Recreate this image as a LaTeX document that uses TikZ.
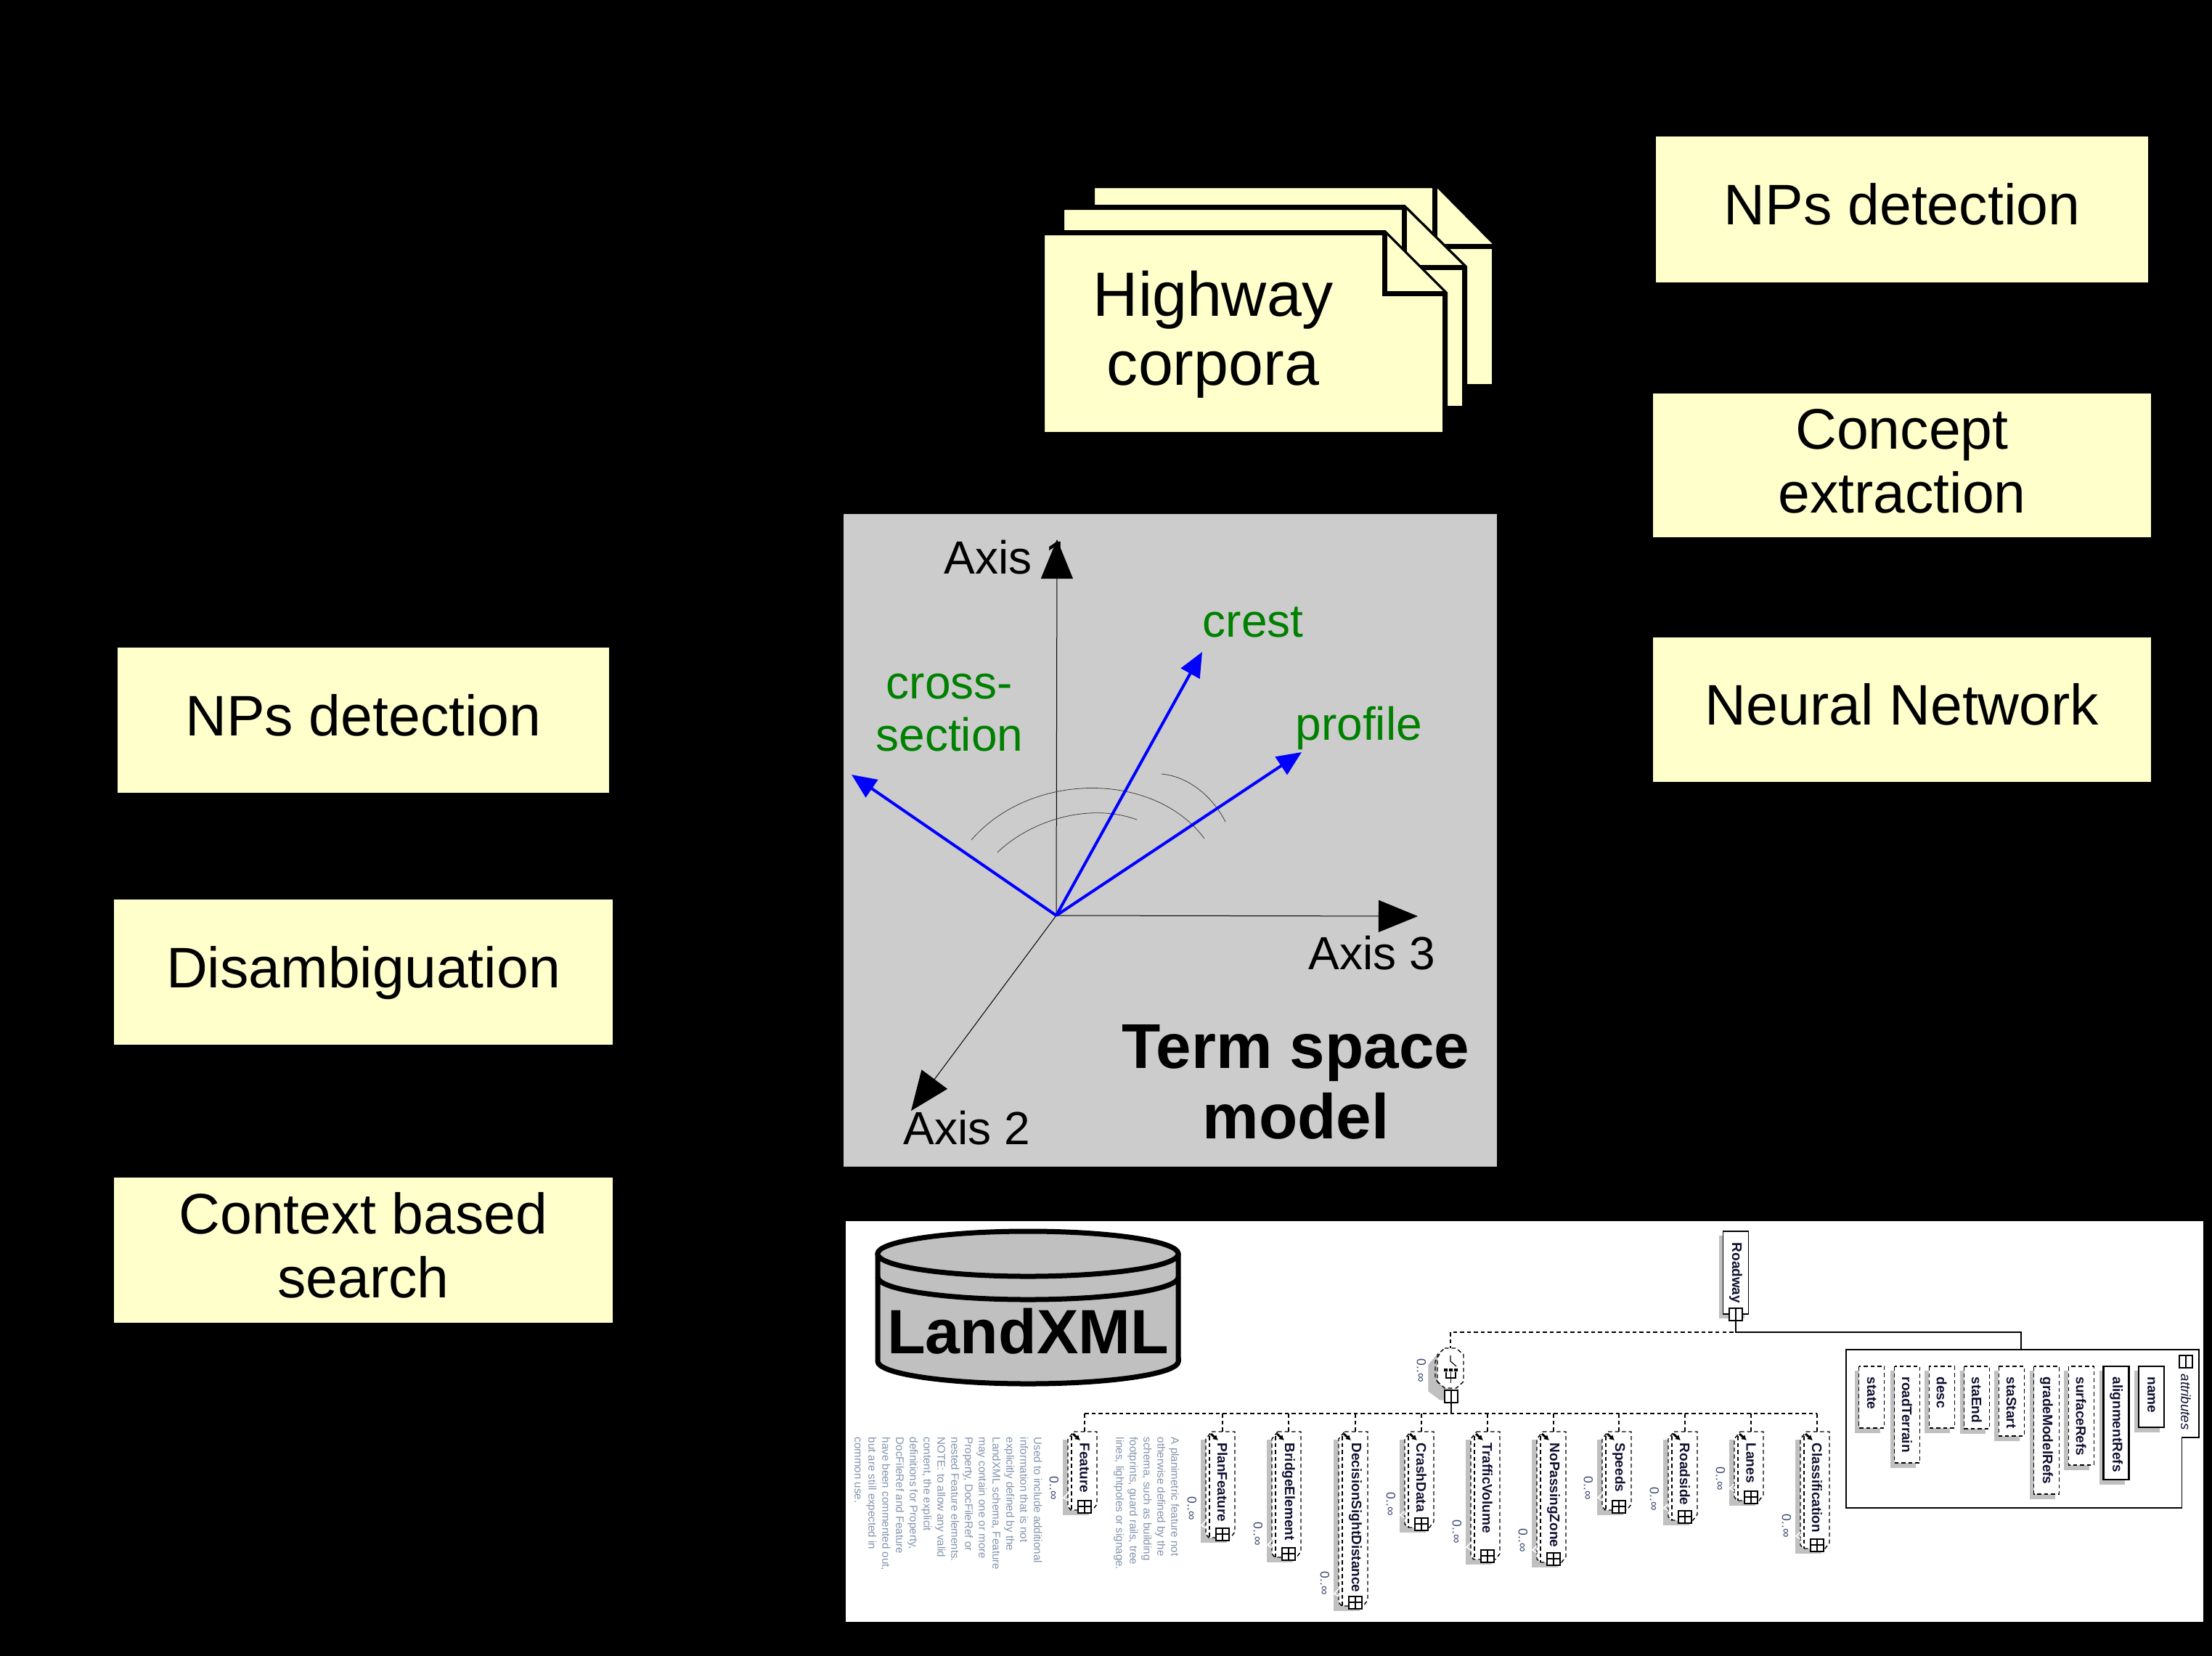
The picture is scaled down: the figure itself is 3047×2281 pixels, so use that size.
\documentclass[tikz,border=0pt]{standalone}
\usepackage{fontspec}
\setmainfont{Liberation Sans}
\usepackage{xcolor}
\usepackage{tikz}
\usetikzlibrary{arrows.meta, positioning}

\definecolor{noteyellow}{HTML}{FFFFCC}
\definecolor{panelgray}{HTML}{CCCCCC}
\definecolor{cylgray}{HTML}{C0C0C0}
\definecolor{shadowgray}{HTML}{C0C0C0}
\definecolor{termgreen}{HTML}{008000}
\definecolor{notetext}{HTML}{8294AC}
\definecolor{xsdtext}{HTML}{101030}
\definecolor{occurtext}{HTML}{3A4A70}

% one sheet of the stack: left, top, fold x, fold y, right, bottom
\newcommand{\notepage}[6]{
	\filldraw[pageline] (#1,#2) -- (#3,#2) -- (#5,#4) -- (#5,#6) -- (#1,#6) -- cycle;
	\draw[pageline] (#3,#2) -- (#3,#4) -- (#5,#4);
}
% schema element: name, x, y of plus, y of occurrence, text
\newcommand{\elembox}[5]{
	\fill[shadowgray] (#2-30,1983) rectangle (#2+6,#3+12);
	\filldraw[dashline, fill=white] (#2-15,1972) -- (#2+17,1972) -- (#2+17,#3-3) -- (#2+11,#3+5)
		-- (#2-19,#3+5) -- (#2-23,#3) -- (#2-23,1982) -- cycle;
	\draw[dashline] (#2-18,1978) -- (#2-18,#3+5);
	\draw[white, line width=0.015cm] (#2-23,#3-18) -- (#2-29,#3-12) -- (#2-23,#3-8);
	\draw[line width=0.03cm, -{Latex[length=0.07cm,width=0.08cm]}] (#2-16,1975) -- (#2-6,1984);
	\coordinate (#1Bus) at (#2,1947);
	\coordinate (#1Top) at (#2,1972);
	\draw[dashline] (#1Bus) -- (#1Top);
	\node[xsdlabel] (#1) at (#2,1987) {#5};
	\node[plusbox] (#1Plus) at (#2,#3) {};
	\draw[thin, black] (#1Plus.north) -- (#1Plus.south);
	\draw[thin, black] (#1Plus.west) -- (#1Plus.east);
	\node[occur] (#1Occur) at (#2-42,#4) {0..∞};
}
% attribute of the group: name, left x, bottom, line style, text
\newcommand{\attrbox}[5]{
	\fill[shadowgray] (#2-6,1888) rectangle (#2+29,#3+7);
	\filldraw[#4, fill=white] (#2,1882) rectangle (#2+35,#3);
	\node[xsdlabel] (#1) at (#2+17.5,1896) {#5};
}

\begin{document}
\begin{tikzpicture}[x=0.01cm, y=-0.01cm,
			notebox/.style={fill=noteyellow, align=center, inner sep=0pt,
				font=\fontsize{22.4}{25}\selectfont},
			oneline/.style={text height=0.57cm, text depth=0.15cm},
			twoline/.style={text height=1.50cm, text depth=0.20cm},
			pageline/.style={draw=black, fill=noteyellow, line width=0.07cm, line join=miter},
			axisline/.style={black, line width=0.01cm, -{Triangle[length=0.54cm,width=0.44cm]}},
			termline/.style={blue, line width=0.04cm, -{Triangle[length=0.34cm,width=0.29cm]}},
			arcline/.style={black!75, line width=0.008cm},
			axislabel/.style={anchor=base west, inner sep=0pt, font=\fontsize{18.2}{20.5}\selectfont},
			termlabel/.style={inner sep=0pt, text=termgreen, align=center, font=\fontsize{18.2}{20.5}\selectfont},
			cylline/.style={draw=black, fill=cylgray, line width=0.07cm},
			dashline/.style={draw=black, line width=0.014cm, dash pattern=on 0.055cm off 0.04cm},
			solidline/.style={draw=black, line width=0.018cm},
			thickline/.style={draw=black, line width=0.025cm},
			xsdlabel/.style={anchor=west, rotate=-90, inner sep=0pt, text=xsdtext,
				font=\fontsize{5.4}{6.5}\bfseries\selectfont},
			plusbox/.style={draw=black, fill=white, line width=0.02cm, inner sep=0pt,
				minimum width=0.18cm, minimum height=0.17cm},
			occur/.style={rotate=-90, inner sep=0pt, text=occurtext,
				font=\fontsize{5}{6}\selectfont},
			remark/.style={anchor=north west, rotate=-90, align=left, inner sep=0pt, text=notetext,
				font=\fontsize{4.3}{5.4}\selectfont}]

	\fill[black] (0,0) rectangle (3047,2281);
	\useasboundingbox (0,0) rectangle (3047,2281);

	% boxes on the right
	\node[notebox, oneline, minimum width=6.78cm, minimum height=2.01cm] (RightNPs) at (2620,288.5) {NPs detection};
	\node[notebox, twoline, minimum width=6.86cm, minimum height=1.98cm] (Concept) at (2620,641) {Concept\\extraction};
	\node[notebox, oneline, minimum width=6.86cm, minimum height=1.99cm] (Neural) at (2620,977.5) {Neural Network};

	% boxes on the left
	\node[notebox, oneline, minimum width=6.77cm, minimum height=2.00cm] (LeftNPs) at (500.5,992) {NPs detection};
	\node[notebox, oneline, minimum width=6.87cm, minimum height=2.00cm] (Disamb) at (500.5,1339) {Disambiguation};
	\node[notebox, twoline, minimum width=6.87cm, minimum height=2.00cm] (Context) at (500.5,1722) {Context based\\search};

	% stack of documents
	\notepage{1504.5}{255.5}{1976}{339}{2058.5}{532.5}
	\notepage{1462.5}{285.5}{1934}{368}{2017.5}{562.5}
	\notepage{1435.5}{320.5}{1907}{404}{1990.5}{598.5}
	\node[inner sep=0pt, align=center, font=\fontsize{24.5}{27}\selectfont] (Corpora) at (1671,461) {Highway\\corpora};

	% term space
	\node[fill=panelgray, inner sep=0pt, minimum width=9.00cm, minimum height=8.99cm] (Panel) at (1612,1157.5) {};
	\coordinate (Origin) at (1455,1261);
	\coordinate (AxisTopTip) at (1456,743);
	\coordinate (AxisLeftTip) at (1255,1530);
	\coordinate (AxisRightTip) at (1953,1262);
	\coordinate (CrossTip) at (1173,1067);
	\coordinate (CrestTip) at (1656,898);
	\coordinate (ProfileTip) at (1793,1036);
	\node[axislabel] (AxisOne) at (1300,790) {Axis 1};
	\node[axislabel] (AxisTwo) at (1244,1576) {Axis 2};
	\node[axislabel] (AxisThree) at (1802,1335) {Axis 3};
	\draw[axisline] (Origin) -- (AxisTopTip);
	\draw[axisline] (Origin) -- (AxisLeftTip);
	\draw[axisline] (Origin) -- (AxisRightTip);
	\draw[arcline] (1338,1157) .. controls (1420,1062) and (1590,1062) .. (1659,1155);
	\draw[arcline] (1374,1174) .. controls (1420,1130) and (1500,1105) .. (1566,1129);
	\draw[arcline] (1600,1066) .. controls (1640,1070) and (1672,1100) .. (1688,1132);
	\draw[termline] (Origin) -- (CrossTip);
	\draw[termline] (Origin) -- (CrestTip);
	\draw[termline] (Origin) -- (ProfileTip);
	\node[termlabel] (Cross) at (1308,982) {cross-\\section};
	\node[termlabel, anchor=base west] (Crest) at (1656,877) {crest};
	\node[termlabel, anchor=base west] (Profile) at (1784,1019) {profile};
	\node[inner sep=0pt, align=center, font=\fontsize{24.8}{27.6}\bfseries\selectfont] (TermSpace) at (1785,1490) {Term space\\model};

	% schema picture
	\node[fill=white, inner sep=0pt, minimum width=18.68cm, minimum height=5.52cm] (Sheet) at (2100,1958) {};

	\filldraw[cylline] (1209,1727) -- (1209,1875) arc[start angle=180, end angle=360, x radius=2.07cm, y radius=0.31cm] -- (1623,1727);
	\filldraw[cylline] (1416,1727) ellipse [x radius=2.07cm, y radius=0.31cm];
	\draw[cylline, fill=none] (1209,1759) arc[start angle=180, end angle=360, x radius=2.07cm, y radius=0.31cm];
	\node[inner sep=0pt, anchor=base, font=\fontsize{24.5}{30}\bfseries\selectfont] (LandXML) at (1416,1864) {LandXML};

	\node[remark] (RemarkFeature) at (1436,1979) {Used to include additional\\information that is not\\explicitly defined by the\\LandXML schema, Feature\\may contain one or more\\Property, DocFileRef or\\nested Feature elements.\\NOTE: to allow any valid\\content, the explicit\\definitions for Property,\\DocFileRef and Feature\\have been commented out,\\but are still expected in\\common use.};
	\node[remark] (RemarkPlan) at (1625,1979) {A planimetric feature not\\otherwise defined by the\\schema, such as building\\footprints, guard rails, tree\\lines, lightpoles or signage.};

	% root of the tree
	\fill[shadowgray] (2368,1702) rectangle (2403,1816);
	\node[solidline, fill=white, inner sep=0pt, minimum width=0.35cm, minimum height=1.14cm] (Roadway) at (2391,1753) {};
	\node[xsdlabel] (RoadwayText) at (2391,1711) {Roadway};
	\node[plusbox] (RoadwayMinus) at (2391,1810) {};
	\draw[thin, black] (RoadwayMinus.north) -- (RoadwayMinus.south);
	\coordinate (RoadBus) at (2391,1835);
	\coordinate (ChoiceTop) at (1998,1835);
	\coordinate (AttrTop) at (2784,1859);

	% choice below the root
	\filldraw[shadowgray] (1982,1864) -- (1968,1880) -- (1968,1916) -- (1984,1928) -- (2000,1928) -- (2000,1864) -- cycle;
	\filldraw[dashline, fill=white] (1990,1857) -- (2006,1857) -- (2016,1866) -- (2016,1903) -- (2006,1912) -- (1990,1912) -- (1980,1903) -- (1980,1866) -- cycle;
	\draw[dashline] (1983,1865) -- (1977,1875) -- (1977,1898) -- (1984,1909);
	\node[plusbox] (ChoiceMinus) at (1999,1923.5) {};
	\draw[thin, black] (ChoiceMinus.north) -- (ChoiceMinus.south);
	\draw[line width=0.012cm] (1998,1867) -- (1998,1875) -- (2006,1882);
	\fill[black] (1989,1885) rectangle (1994,1889) (1996,1885) rectangle (2001,1889) (2003,1885) rectangle (2008,1889);
	\draw[line width=0.012cm] (1992,1890) -- (1992,1898) -- (2005,1898) -- (2005,1890) (1998.5,1890) -- (1998.5,1905);
	\node[occur] (ChoiceOccur) at (1958,1888) {0..∞};
	\coordinate (ChoiceBus) at (1999,1947);

	\draw[dashline] (RoadwayMinus.south) -- (RoadBus) -- (ChoiceTop) -- (1998,1857);
	\draw[solidline] (RoadwayMinus.south) -- (RoadBus) -| (AttrTop);
	\draw[solidline] (ChoiceMinus.south) -- (ChoiceBus);
	\coordinate (BusLeft) at (1494,1947);
	\coordinate (BusRight) at (2503,1947);
	\draw[dashline] (BusLeft) -- (BusRight);

	\elembox{Feature}{1494}{2075}{2050}{Feature}
	\elembox{PlanFeature}{1684}{2113}{2078}{PlanFeature}
	\elembox{BridgeElement}{1775}{2140}{2113}{BridgeElement}
	\elembox{DecisionSightDistance}{1867}{2207}{2181}{DecisionSightDistance}
	\elembox{CrashData}{1958}{2099}{2072}{CrashData}
	\elembox{TrafficVolume}{2049}{2143}{2110}{TrafficVolume}
	\elembox{NoPassingZone}{2140}{2147}{2122}{NoPassingZone}
	\elembox{Speeds}{2230}{2075}{2050}{Speeds}
	\elembox{Roadside}{2321}{2089}{2065}{Roadside}
	\elembox{Lanes}{2412}{2062}{2037}{Lanes}
	\elembox{Classification}{2503}{2128}{2102}{Classification}

	% attributes group
	\draw[solidline] (2543,1859) -- (3029,1859) -- (3029,1980) -- (3005.5,1980) -- (3005.5,2077) -- (2543,2077) -- cycle;
	\node[plusbox] (AttrMinus) at (3011,1875.5) {};
	\draw[thin, black] (AttrMinus.north) -- (AttrMinus.south);
	\node[anchor=west, rotate=-90, inner sep=0pt, text=xsdtext, font=\fontsize{5.3}{6.4}\itshape\selectfont] (AttrTitle) at (3011,1892) {attributes};

	\attrbox{State}{2560.6}{1967}{dashline}{state}
	\attrbox{RoadTerrain}{2609.5}{2015}{dashline}{roadTerrain}
	\attrbox{Desc}{2657.2}{1967}{dashline}{desc}
	\attrbox{StaEnd}{2705.5}{1968}{dashline}{staEnd}
	\attrbox{StaStart}{2753.2}{1978}{dashline}{staStart}
	\attrbox{GradeModelRefs}{2801.5}{2058}{dashline}{gradeModelRefs}
	\attrbox{SurfaceRefs}{2849.2}{2018}{dashline}{surfaceRefs}
	\attrbox{AlignmentRefs}{2897.6}{2038}{thickline}{alignmentRefs}
	\attrbox{Name}{2945.9}{1966}{thickline}{name}
\end{tikzpicture}
\end{document}
